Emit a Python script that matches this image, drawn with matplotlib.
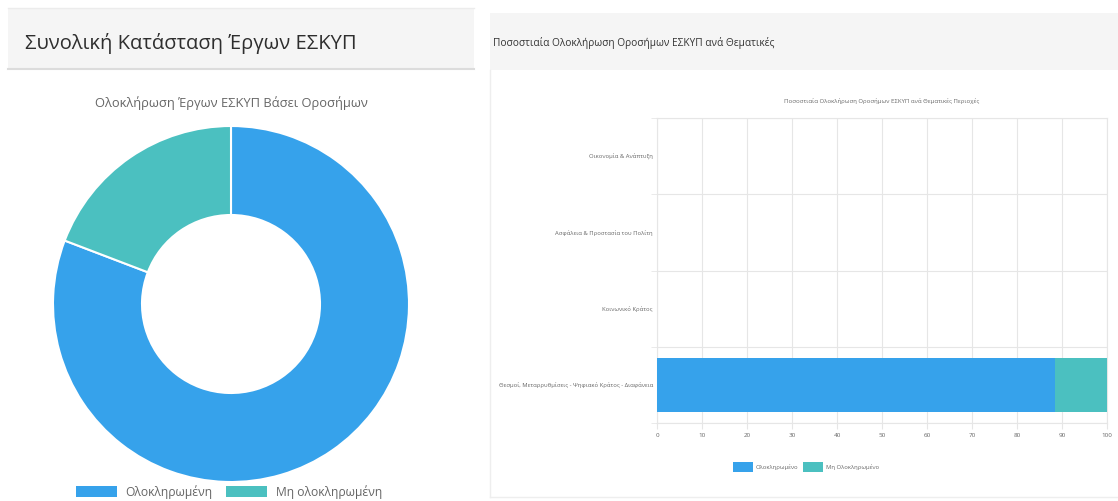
import matplotlib
matplotlib.use("Agg")
import matplotlib.pyplot as plt
from matplotlib.patches import Rectangle, Patch
from matplotlib.lines import Line2D

plt.rcParams['font.family'] = ['Open Sans', 'DejaVu Sans']

W, H = 1118, 501

# data
donut_labels = ['Ολοκληρωμένη', 'Μη ολοκληρωμένη']
donut_values = [80.8, 19.2]

themes = ['Οικονομία & Ανάπτυξη',
          'Ασφάλεια & Προστασία του Πολίτη',
          'Κοινωνικό Κράτος',
          'Θεσμοί, Μεταρρυθμίσεις - Ψηφιακό Κράτος - Διαφάνεια']
done = [0, 0, 0, 88.4]
not_done = [0, 0, 0, 11.6]
bar_legend = ['Ολοκληρωμένο', 'Μη Ολοκληρωμένο']
x_ticks = [0, 10, 20, 30, 40, 50, 60, 70, 80, 90, 100]

BLUE = '#36A2EB'
TEAL = '#4BC0C0'


def px(x, y, w, h):
    # pixel box (top-left origin) -> figure fraction
    return [x / W, 1 - (y + h) / H, w / W, h / H]


fig = plt.figure(figsize=(W / 100, H / 100), dpi=100)
fig.patch.set_facecolor('white')

# panel headers
fig.patches.append(Rectangle((8 / W, 1 - 69 / H), 466 / W, 61 / H, transform=fig.transFigure,
                             facecolor='#f5f5f5', edgecolor='none', zorder=0))
fig.lines.append(Line2D([8 / W, 474 / W], [1 - 69 / H, 1 - 69 / H], transform=fig.transFigure,
                        color='#dcdcdc', lw=1.5))
fig.lines.append(Line2D([8 / W, 474 / W], [1 - 8 / H, 1 - 8 / H], transform=fig.transFigure,
                        color='#ececec', lw=1))
fig.patches.append(Rectangle((490 / W, 1 - 70 / H), 628 / W, 57 / H, transform=fig.transFigure,
                             facecolor='#f5f5f5', edgecolor='none', zorder=0))
# right panel border
fig.lines.append(Line2D([490 / W, 490 / W], [1 - 70 / H, 1 - 497 / H], transform=fig.transFigure,
                        color='#eeeeee', lw=1))
fig.lines.append(Line2D([490 / W, 1118 / W], [1 - 497 / H, 1 - 497 / H], transform=fig.transFigure,
                        color='#eeeeee', lw=1))

fig.text(25 / W, 1 - 43 / H, 'Συνολική Κατάσταση Έργων ΕΣΚΥΠ', fontsize=14.5,
         color='#2e2e2e', va='center', ha='left')
fig.text(493 / W, 1 - 43 / H, 'Ποσοστιαία Ολοκλήρωση Οροσήμων ΕΣΚΥΠ ανά Θεματικές',
         fontsize=7.3, color='#333333', va='center', ha='left')

# donut
ax1 = fig.add_axes(px(53, 126, 356, 356))
ax1.pie(donut_values, colors=[BLUE, TEAL], startangle=90, counterclock=False,
        radius=1, wedgeprops=dict(width=0.5, edgecolor='white', linewidth=1.5))
ax1.set_xlim(-1, 1)
ax1.set_ylim(-1, 1)
ax1.set_aspect('equal')
ax1.axis('off')
fig.text(231 / W, 1 - 103 / H, 'Ολοκλήρωση Έργων ΕΣΚΥΠ Βάσει Οροσήμων', fontsize=9.3,
         color='#666666', ha='center', va='center')
handles1 = [Patch(facecolor=BLUE, edgecolor='none'), Patch(facecolor=TEAL, edgecolor='none')]
fig.legend(handles1, donut_labels, loc='center', bbox_to_anchor=(229 / W, 1 - 492 / H),
           ncol=2, frameon=False, fontsize=8.7, handlelength=3.4, handleheight=1.0,
           columnspacing=1.1, handletextpad=0.7, labelcolor='#666666',
           borderpad=0, borderaxespad=0)

# stacked bar chart
ax2 = fig.add_axes(px(657, 118, 450, 305))
ypos = list(range(len(themes)))
ax2.barh(ypos, done, height=0.71, color=BLUE, label=bar_legend[0], zorder=3)
ax2.barh(ypos, not_done, left=done, height=0.71, color=TEAL, label=bar_legend[1], zorder=3)
ax2.set_xlim(0, 100)
ax2.set_ylim(len(themes) - 0.5, -0.5)
ax2.set_xticks(x_ticks)
ax2.set_xticklabels([str(t) for t in x_ticks], fontsize=4.5, color='#666666')
ax2.set_yticks(ypos)
ax2.set_yticklabels(themes, fontsize=4.2, color='#666666')
ax2.set_yticks([i - 0.5 for i in range(len(themes) + 1)], minor=True)
ax2.grid(axis='x', color='#e6e6e6', lw=0.8, zorder=0)
ax2.grid(axis='y', which='minor', color='#e6e6e6', lw=0.8, zorder=0)
ax2.tick_params(axis='both', which='both', length=4, color='#e6e6e6', pad=3)
ax2.tick_params(axis='y', which='major', length=0)
for s in ax2.spines.values():
    s.set_color('#e6e6e6')
    s.set_linewidth(0.8)
ax2.set_title('Ποσοστιαία Ολοκλήρωση Οροσήμων ΕΣΚΥΠ ανά Θεματικές Περιοχές',
              fontsize=4.3, color='#666666', pad=11)
fig.legend(loc='center', bbox_to_anchor=(806 / W, 1 - 467 / H), ncol=2, frameon=False,
           fontsize=4.2, handlelength=3.5, handleheight=2.1, columnspacing=0.8,
           handletextpad=0.4, labelcolor='#666666')

fig.savefig('out.png', dpi=100)
